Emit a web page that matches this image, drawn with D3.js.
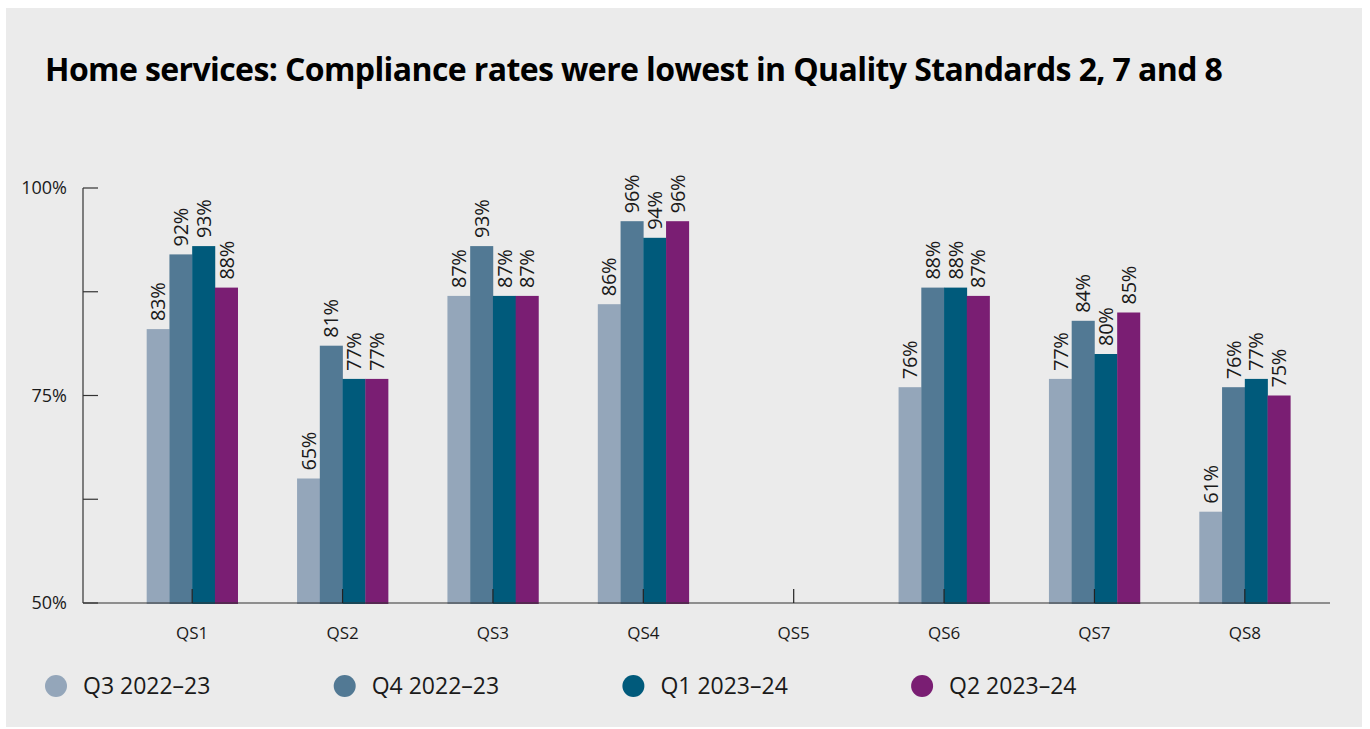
<!DOCTYPE html>
<html>
<head>
<meta charset="utf-8">
<script src="https://cdn.jsdelivr.net/npm/d3@7"></script>
<style>
  body { margin: 0; background: #fff; }
  svg { display: block; font-family: "Open Sans", "Noto Sans", sans-serif; }
</style>
</head>
<body>
<svg id="chart" width="1370" height="729"></svg>
<script>
var categories = ["QS1", "QS2", "QS3", "QS4", "QS5", "QS6", "QS7", "QS8"];
var seriesNames = ["Q3 2022\u201323", "Q4 2022\u201323", "Q1 2023\u201324", "Q2 2023\u201324"];
var q3_2223 = [83, 65, 87, 86, null, 76, 77, 61];
var q4_2223 = [92, 81, 93, 96, null, 88, 84, 76];
var q1_2324 = [93, 77, 87, 94, null, 88, 80, 77];
var q2_2324 = [88, 77, 87, 96, null, 87, 85, 75];
var yTicks = [50, 62.5, 75, 87.5, 100];
var yLabelled = [50, 75, 100];
var colors = ["#94a6ba", "#527994", "#005a7b", "#7a1e73"];

var seriesValues = [q3_2223, q4_2223, q1_2324, q2_2324];

var svg = d3.select("#chart");

// panel background
svg.append("rect")
    .attr("x", 6).attr("y", 8)
    .attr("width", 1356).attr("height", 719)
    .attr("fill", "#ebebeb");

svg.append("text")
    .attr("x", 45).attr("y", 81)
    .attr("font-size", 32)
    .attr("font-weight", 700)
    .attr("letter-spacing", -0.6)
    .attr("fill", "#000")
    .text("Home services: Compliance rates were lowest in Quality Standards 2, 7 and 8");

var x = d3.scaleBand()
    .domain(categories)
    .range([117, 1320]);

var x1 = d3.scaleBand()
    .domain(d3.range(seriesNames.length))
    .range([0, 91]);

var y = d3.scaleLinear()
    .domain([50, 100])
    .range([603, 188]);

// y axis
var yAxis = svg.append("g").attr("transform", "translate(83,0)");
yAxis.append("line")
    .attr("y1", y(100)).attr("y2", y(50))
    .attr("stroke", "#333").attr("stroke-width", 1.2);
yAxis.selectAll("line.tick")
    .data(yTicks)
  .enter().append("line")
    .attr("class", "tick")
    .attr("x1", 0).attr("x2", 15)
    .attr("y1", function(d) { return y(d); })
    .attr("y2", function(d) { return y(d); })
    .attr("stroke", "#333").attr("stroke-width", 1.2);
yAxis.selectAll("text")
    .data(yLabelled)
  .enter().append("text")
    .attr("x", -16)
    .attr("y", function(d) { return y(d); })
    .attr("dy", "0.35em")
    .attr("text-anchor", "end")
    .attr("font-size", 18)
    .attr("fill", "#1a1a1a")
    .text(function(d) { return d + "%"; });

// bars
var groups = svg.append("g").selectAll("g")
    .data(categories)
  .enter().append("g")
    .attr("transform", function(d) { return "translate(" + (x(d) + x.bandwidth() / 2 - 45.5) + ",0)"; });

groups.selectAll("rect")
    .data(function(d, i) { return seriesValues.map(function(s, j) { return {s: j, v: s[i]}; }); })
  .enter().filter(function(d) { return d.v != null; })
  .append("rect")
    .attr("x", function(d) { return x1(d.s); })
    .attr("width", x1.bandwidth() + 0.3)
    .attr("y", function(d) { return y(d.v); })
    .attr("height", function(d) { return y(50) - y(d.v) + 1; })
    .attr("fill", function(d) { return colors[d.s]; });

groups.selectAll("text")
    .data(function(d, i) { return seriesValues.map(function(s, j) { return {s: j, v: s[i]}; }); })
  .enter().filter(function(d) { return d.v != null; })
  .append("text")
    .attr("transform", function(d) {
      return "translate(" + (x1(d.s) + x1.bandwidth() / 2) + "," + (y(d.v) - 8) + ") rotate(-90)";
    })
    .attr("dy", "0.36em")
    .attr("font-size", 20)
    .attr("letter-spacing", -0.3)
    .attr("fill", "#1a1a1a")
    .text(function(d) { return d.v + "%"; });

// x axis
svg.append("line")
    .attr("x1", 83).attr("x2", 1330)
    .attr("y1", 603).attr("y2", 603)
    .attr("stroke", "#333").attr("stroke-width", 1.2);
svg.append("g").selectAll("line")
    .data(categories)
  .enter().append("line")
    .attr("x1", function(d) { return x(d) + x.bandwidth() / 2; })
    .attr("x2", function(d) { return x(d) + x.bandwidth() / 2; })
    .attr("y1", 589).attr("y2", 603)
    .attr("stroke", "#222").attr("stroke-width", 1.2);
svg.append("g").selectAll("text")
    .data(categories)
  .enter().append("text")
    .attr("x", function(d) { return x(d) + x.bandwidth() / 2; })
    .attr("y", 639)
    .attr("text-anchor", "middle")
    .attr("font-size", 17)
    .attr("fill", "#1a1a1a")
    .text(function(d) { return d; });

// legend
var legend = svg.append("g").selectAll("g")
    .data(seriesNames)
  .enter().append("g")
    .attr("transform", function(d, i) { return "translate(" + (56 + i * 288.7) + ",686)"; });
legend.append("circle")
    .attr("r", 11)
    .attr("fill", function(d, i) { return colors[i]; });
legend.append("text")
    .attr("x", 27)
    .attr("dy", "0.35em")
    .attr("font-size", 23)
    .attr("fill", "#1a1a1a")
    .text(function(d) { return d; });
</script>
</body>
</html>
